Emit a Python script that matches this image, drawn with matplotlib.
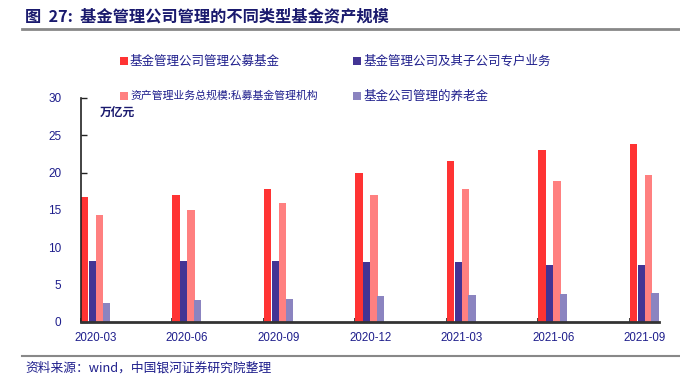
import matplotlib
matplotlib.use("Agg")
import matplotlib.pyplot as plt
from matplotlib.patches import Rectangle
from matplotlib.lines import Line2D
import numpy as np

plt.rcParams['font.family'] = ['Noto Sans CJK SC', 'DejaVu Sans']

categories = ["2020-03", "2020-06", "2020-09", "2020-12", "2021-03", "2021-06", "2021-09"]
series_names = ["基金管理公司管理公募基金", "基金管理公司及其子公司专户业务",
                "资产管理业务总规模:私募基金管理机构", "基金公司管理的养老金"]
public_funds = [16.7, 16.95, 17.8, 19.95, 21.6, 23.05, 23.9]
special_accounts = [8.15, 8.15, 8.15, 8.1, 8.0, 7.65, 7.6]
private_funds = [14.35, 14.95, 15.9, 17.0, 17.8, 18.95, 19.7]
pensions = [2.6, 2.9, 3.1, 3.45, 3.55, 3.75, 3.85]
yticks = [0, 5, 10, 15, 20, 25, 30]

colors = ["#FF3333", "#433494", "#FF8080", "#8B84C0"]
navy = "#1E1E8C"

W, H = 680, 376
fig = plt.figure(figsize=(W / 100, H / 100), dpi=100)
ax = fig.add_axes([81 / W, 1 - 322 / H, (659 - 81) / W, (322 - 98) / H])

x = np.arange(len(categories))
offsets = [0.0, 0.083, 0.163, 0.235]
width = 0.081
for vals, off, c in zip([public_funds, special_accounts, private_funds, pensions], offsets, colors):
    ax.bar(x + off, vals, width=width, align='edge', color=c, linewidth=0, zorder=2)

ax.set_xlim(0, 6.317)
ax.set_ylim(0, 30)
ax.set_yticks(yticks)
ax.set_yticklabels([str(v) for v in yticks], color=navy, fontsize=8.5, family=['Liberation Sans'])
ax.set_xticks(x, minor=True)
ax.set_xticks(x + 0.16)
ax.set_xticklabels(categories, color=navy, fontsize=8.3, family=['Liberation Sans'])
ax.tick_params(axis='x', which='major', length=0, pad=7)
ax.tick_params(axis='x', which='minor', direction='in', length=3, width=1.2, color='#222222')
ax.tick_params(axis='y', direction='in', length=4, width=1, color='#222222', pad=14)
for s in ['top', 'right']:
    ax.spines[s].set_visible(False)
ax.spines['left'].set_color('#222222')
ax.spines['left'].set_linewidth(1.2)
ax.spines['bottom'].set_color('#333333')
ax.spines['bottom'].set_linewidth(2)

ax.text(100 / W, 1 - 112 / H, "万亿元", transform=fig.transFigure, fontsize=8.5,
        fontweight='bold', color="#1A1A6E", va='center', ha='left')

# Title
fig.text(25 / W, 1 - 16 / H, "图  27:  基金管理公司管理的不同类型基金资产规模", fontsize=11.7,
         fontweight='bold', color="#1A1A6E", va='center', ha='left')
fig.add_artist(Line2D([22 / W, 1.0], [1 - 29 / H, 1 - 29 / H], transform=fig.transFigure,
                      color='#888888', linewidth=2))
fig.add_artist(Line2D([22 / W, 1.0], [1 - 356 / H, 1 - 356 / H], transform=fig.transFigure,
                      color='#888888', linewidth=1.5))
fig.text(25 / W, 1 - 368 / H, "资料来源：wind，中国银河证券研究院整理", fontsize=9.2,
         style='italic', color=navy, va='center', ha='left')

# Legend
leg_pos = [(120, 61), (353, 61), (120, 96), (353, 96)]
leg_fs = [9, 9, 7.8, 9]
for name, c, (lx, ly), fs in zip(series_names, colors, leg_pos, leg_fs):
    fig.add_artist(Rectangle((lx / W, 1 - (ly + 4) / H), 7.5 / W, 8 / H,
                             transform=fig.transFigure, color=c, linewidth=0))
    fig.text((lx + 10) / W, 1 - ly / H, name, fontsize=fs, color=navy, va='center', ha='left')

fig.savefig("out.png", dpi=100)
